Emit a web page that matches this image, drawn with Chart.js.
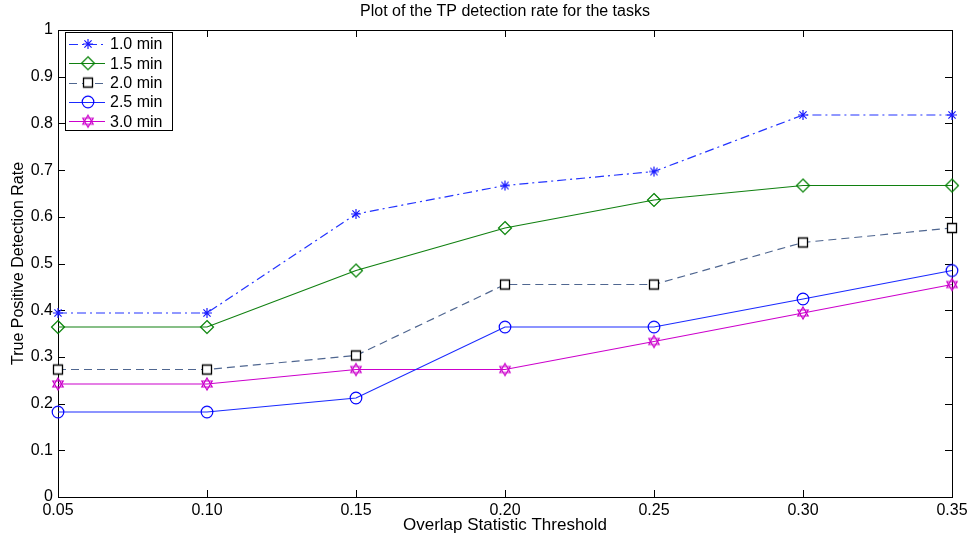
<!doctype html>
<html lang="en">
  <head>
    <title>TP detection rate</title>
    <style>
      html, body { margin: 0; padding: 0; background: #ffffff; }
      .chart-box { position: relative; width: 975px; height: 539px; }
    </style>
  </head>
  <body>
    <div class="chart-box">
      <canvas id="tpChart" width="975" height="539"></canvas>
    </div>

    <script src="https://cdn.jsdelivr.net/npm/chart.js@4.4.1/dist/chart.umd.min.js"></script>
    <script type="text/javascript">
      // Overlap thresholds on the x axis
      const thresholds = [0.05, 0.10, 0.15, 0.20, 0.25, 0.30, 0.35];

      // TP detection rate per task length
      const rate10 = [0.394, 0.394, 0.606, 0.667, 0.697, 0.818, 0.818];
      const rate15 = [0.364, 0.364, 0.485, 0.576, 0.636, 0.667, 0.667];
      const rate20 = [0.273, 0.273, 0.303, 0.455, 0.455, 0.545, 0.576];
      const rate25 = [0.182, 0.182, 0.212, 0.364, 0.364, 0.424, 0.485];
      const rate30 = [0.242, 0.242, 0.273, 0.273, 0.333, 0.394, 0.455];

      const seriesLabels = ["1.0 min", "1.5 min", "2.0 min", "2.5 min", "3.0 min"];
      const yTicks = [0, 0.1, 0.2, 0.3, 0.4, 0.5, 0.6, 0.7, 0.8, 0.9, 1];
      const titleText = "Plot of the TP detection rate for the tasks";

      const FONT = "'Liberation Sans', Arial, Helvetica, sans-serif";

      // Draw a MATLAB-style marker onto a small canvas so it can be used as pointStyle
      function makeMarker(kind, color) {
        const size = 16;
        const c = document.createElement("canvas");
        c.width = size;
        c.height = size;
        const g = c.getContext("2d");
        const m = size / 2;
        g.strokeStyle = color;
        g.lineWidth = 1.2;
        g.beginPath();
        if (kind === "asterisk") {
          const r = 5;
          g.moveTo(m - r, m); g.lineTo(m + r, m);
          g.moveTo(m, m - r); g.lineTo(m, m + r);
          const d = r * 0.72;
          g.moveTo(m - d, m - d); g.lineTo(m + d, m + d);
          g.moveTo(m - d, m + d); g.lineTo(m + d, m - d);
        } else if (kind === "diamond") {
          const r = 6.5;
          g.moveTo(m, m - r); g.lineTo(m + r, m);
          g.lineTo(m, m + r); g.lineTo(m - r, m);
          g.closePath();
        } else if (kind === "square") {
          g.lineWidth = 1.3;
          g.rect(m - 4.5, m - 4.5, 9, 9);
        } else if (kind === "circle") {
          g.arc(m, m, 5.8, 0, Math.PI * 2);
        } else if (kind === "hexagram") {
          const r = 6;
          for (let t = 0; t < 2; t++) {
            for (let i = 0; i < 3; i++) {
              const a = -Math.PI / 2 + t * Math.PI + (i * 2 * Math.PI) / 3;
              const px = m + r * Math.cos(a);
              const py = m + r * Math.sin(a);
              if (i === 0) g.moveTo(px, py); else g.lineTo(px, py);
            }
            g.closePath();
          }
        }
        if (kind === "square") {
          g.fillStyle = "#ffffff";
          g.fill();
        }
        g.stroke();
        return c;
      }

      const styles = [
        { color: "#1a1aff", line: "#2233ff", dash: [9, 4, 2, 4], marker: "asterisk" },
        { color: "#008000", line: "#108010", dash: [], marker: "diamond" },
        { color: "#000000", line: "#4f6690", dash: [8, 5], marker: "square" },
        { color: "#0000ff", line: "#1a2aff", dash: [], marker: "circle" },
        { color: "#cc00cc", line: "#cc00cc", dash: [], marker: "hexagram" },
      ];
      styles.forEach((s) => (s.img = makeMarker(s.marker, s.color)));

      const allRates = [rate10, rate15, rate20, rate25, rate30];

      const datasets = allRates.map((vals, i) => ({
        label: seriesLabels[i],
        data: thresholds.map((x, j) => ({ x: x, y: vals[j] })),
        borderColor: styles[i].line,
        borderWidth: 1.2,
        borderDash: styles[i].dash,
        pointStyle: styles[i].img,
        pointRadius: 6,
        tension: 0,
        clip: false,
      }));

      // Axes box with inward ticks on all four sides, title over the axes, legend box
      const boxPlugin = {
        id: "matlabBox",
        beforeDatasetsDraw(chart) {
          const { ctx, chartArea: a, scales } = chart;
          ctx.save();
          ctx.strokeStyle = "#000000";
          ctx.lineWidth = 1;
          ctx.strokeRect(a.left + 0.5, a.top + 0.5, a.right - a.left, a.bottom - a.top);
          const len = 7;
          ctx.beginPath();
          thresholds.forEach((v) => {
            const px = Math.round(scales.x.getPixelForValue(v)) + 0.5;
            ctx.moveTo(px, a.bottom); ctx.lineTo(px, a.bottom - len);
            ctx.moveTo(px, a.top); ctx.lineTo(px, a.top + len);
          });
          yTicks.forEach((v) => {
            const py = Math.round(scales.y.getPixelForValue(v)) + 0.5;
            ctx.moveTo(a.left, py); ctx.lineTo(a.left + len, py);
            ctx.moveTo(a.right, py); ctx.lineTo(a.right - len, py);
          });
          ctx.stroke();

          ctx.fillStyle = "#000000";
          ctx.font = "16px " + FONT;
          ctx.textAlign = "center";
          ctx.textBaseline = "middle";
          ctx.fillText(titleText, (a.left + a.right) / 2, 12);
          ctx.restore();
        },
        afterDraw(chart) {
          const { ctx, chartArea: a } = chart;
          const x0 = a.left + 7;
          const y0 = a.top + 2;
          const w = 107;
          const h = 98;
          ctx.save();
          ctx.fillStyle = "#ffffff";
          ctx.fillRect(x0, y0, w, h);
          ctx.strokeStyle = "#000000";
          ctx.lineWidth = 1;
          ctx.strokeRect(x0 + 0.5, y0 + 0.5, w, h);
          ctx.font = "16px " + FONT;
          ctx.textBaseline = "middle";
          styles.forEach((s, i) => {
            const cy = y0 + 12 + i * 19.3;
            ctx.strokeStyle = s.line;
            ctx.lineWidth = 1.2;
            ctx.setLineDash(s.dash);
            ctx.beginPath();
            ctx.moveTo(x0 + 4, Math.round(cy) + 0.5);
            ctx.lineTo(x0 + 40, Math.round(cy) + 0.5);
            ctx.stroke();
            ctx.setLineDash([]);
            ctx.drawImage(s.img, x0 + 23 - s.img.width / 2, cy - s.img.height / 2);
            ctx.fillStyle = "#000000";
            ctx.fillText(seriesLabels[i], x0 + 45, cy + 1);
          });
          ctx.restore();
        },
      };

      new Chart(document.getElementById("tpChart").getContext("2d"), {
        type: "line",
        data: { datasets: datasets },
        options: {
          responsive: false,
          animation: false,
          layout: { padding: { top: 30, right: 23, left: 0, bottom: 0 } },
          plugins: {
            legend: { display: false },
            tooltip: { enabled: false },
            title: { display: false },
          },
          scales: {
            x: {
              type: "linear",
              min: 0.05,
              max: 0.35,
              afterBuildTicks: (s) => { s.ticks = thresholds.map((v) => ({ value: v })); },
              afterFit: (s) => { s.height = 42; },
              grid: { display: false, drawTicks: false },
              border: { display: false },
              ticks: {
                color: "#000000",
                padding: 4,
                font: { family: FONT, size: 16 },
                callback: (v) => v.toFixed(2),
              },
              title: {
                display: true,
                text: "Overlap Statistic Threshold",
                color: "#000000",
                font: { family: FONT, size: 17 },
                padding: { top: 0, bottom: 3 },
              },
            },
            y: {
              min: 0,
              max: 1,
              afterBuildTicks: (s) => { s.ticks = yTicks.map((v) => ({ value: v })); },
              afterFit: (s) => { s.width = 58; },
              grid: { display: false, drawTicks: false },
              border: { display: false },
              ticks: {
                color: "#000000",
                padding: 5,
                font: { family: FONT, size: 16 },
                callback: (v) => String(Math.round(v * 10) / 10),
              },
              title: {
                display: true,
                text: "True Positive Detection Rate",
                color: "#000000",
                font: { family: FONT, size: 16 },
                padding: { top: 8.5, bottom: 0 },
              },
            },
          },
        },
        plugins: [boxPlugin],
      });
    </script>
  </body>
</html>
